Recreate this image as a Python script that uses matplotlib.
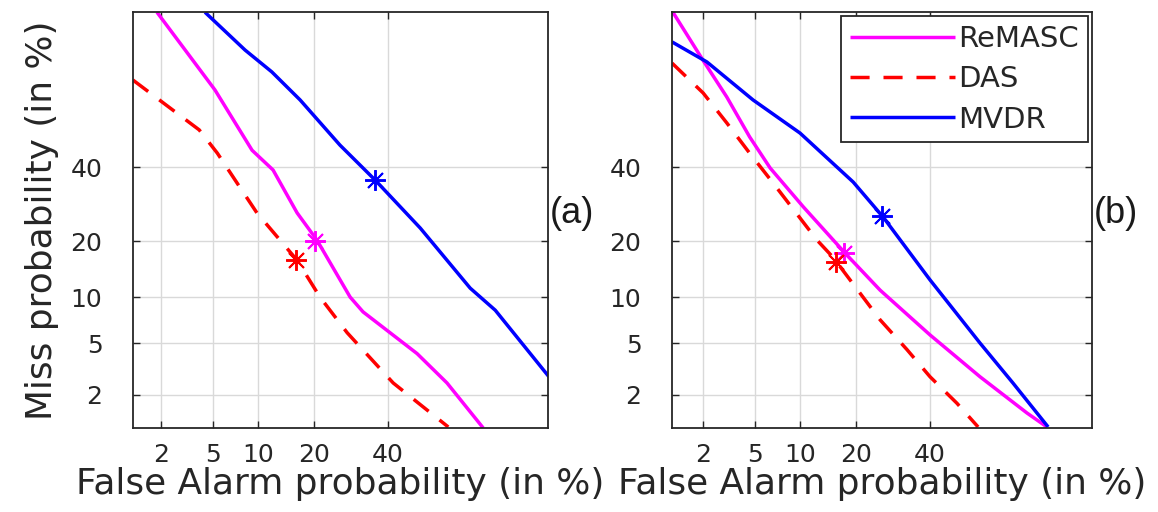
import numpy as np
import matplotlib
matplotlib.use("Agg")
import matplotlib.pyplot as plt
from statistics import NormalDist

# ---------------- data (percent) ----------------
# Panel (a)
a_remasc_fa   = [1.85, 5.2, 9.15, 12.2, 16.5, 20.7, 29.0, 32.6, 49.1, 58.5, 69.2]
a_remasc_miss = [83.4, 63.9, 45.2, 39.1, 26.9, 20.3, 10.0, 8.1, 4.2, 2.5, 1.03]
a_das_fa      = [1.14, 2.5, 4.0, 5.4, 7.35, 9.8, 16.5, 21.4, 28.2, 41.6, 58.9]
a_das_miss    = [66.8, 57.8, 51.6, 44.3, 35.2, 26.9, 16.1, 10.0, 5.9, 2.5, 1.05]
a_mvdr_fa     = [4.41, 8.27, 12.0, 17.1, 26.3, 36.1, 50.1, 65.5, 72.5, 84.7]
a_mvdr_miss   = [83.4, 74.9, 69.1, 60.9, 46.8, 36.1, 23.1, 11.3, 8.3, 2.8]
a_eer         = [20.2, 16.2, 36.1]   # ReMASC, DAS, MVDR

# Panel (b)
b_remasc_fa   = [1.09, 1.99, 3.1, 4.6, 6.4, 10.4, 17.7, 25.8, 40.0, 55.7, 69.7, 75.0]
b_remasc_miss = [83.4, 72.3, 61.8, 49.4, 39.7, 28.5, 17.5, 11.0, 5.7, 2.8, 1.4, 1.05]
b_das_fa      = [1.07, 2.0, 3.1, 4.6, 6.7, 12.5, 15.3, 25.8, 33.1, 40.0, 48.4, 55.1]
b_das_miss    = [71.5, 63.0, 53.8, 44.3, 35.2, 20.3, 16.7, 7.2, 4.5, 2.8, 1.7, 1.05]
b_mvdr_fa     = [1.07, 2.15, 4.87, 9.94, 19.4, 26.6, 40.0, 55.7, 65.7, 75.3]
b_mvdr_miss   = [76.9, 71.8, 60.9, 50.6, 35.5, 25.8, 12.6, 5.0, 2.5, 1.05]
b_eer         = [17.5, 15.8, 26.2]

tick_vals   = [2, 5, 10, 20, 40]
tick_labels = ["2", "5", "10", "20", "40"]
series_names = ["ReMASC", "DAS", "MVDR"]
panel_tags = ["(a)", "(b)"]

# ---------------- normal-deviate scale ----------------
_nd = NormalDist()
_ppf = np.vectorize(_nd.inv_cdf, otypes=[float])
_cdf = np.vectorize(_nd.cdf, otypes=[float])

def fwd(p):
    p = np.asarray(p, dtype=float)
    return _ppf(np.clip(p / 100.0, 1e-9, 1 - 1e-9))

def inv(z):
    return _cdf(np.asarray(z, dtype=float)) * 100.0

colors = {"ReMASC": "#ff00ff", "DAS": "#ff0000", "MVDR": "#0000ff"}
styles = {"ReMASC": "-", "DAS": (0, (5.5, 4.0)), "MVDR": "-"}

fig = plt.figure(figsize=(11.58, 5.12), dpi=100)
W, H = 1158, 512
ax1 = fig.add_axes([133 / W, 84 / H, 415 / W, 416 / H])
ax2 = fig.add_axes([672 / W, 84 / H, 420 / W, 416 / H])

panels = [
    (ax1, [(a_remasc_fa, a_remasc_miss), (a_das_fa, a_das_miss), (a_mvdr_fa, a_mvdr_miss)], a_eer, (-2.276, 1.016)),
    (ax2, [(b_remasc_fa, b_remasc_miss), (b_das_fa, b_das_miss), (b_mvdr_fa, b_mvdr_miss)], b_eer, (-2.301, 1.032)),
]

txtc = "#262626"
for i, (ax, curves, eer, xl) in enumerate(panels):
    ax.set_xscale("function", functions=(fwd, inv))
    ax.set_yscale("function", functions=(fwd, inv))
    for name, (fa, miss), e in zip(series_names, curves, eer):
        ax.plot(fa, miss, linestyle=styles[name], color=colors[name], lw=2.5,
                label=name, solid_capstyle="butt", dash_capstyle="butt")
        ax.plot([e], [e], linestyle="none", marker=(8, 2, 0), markersize=15,
                markeredgewidth=1.4, color=colors[name])
    ax.set_xlim(inv(xl[0]), inv(xl[1]))
    ax.set_ylim(inv(-2.316), inv(0.972))
    ax.set_xticks(tick_vals)
    ax.set_xticklabels(tick_labels)
    ax.set_yticks(tick_vals)
    ax.set_yticklabels(tick_labels)
    ax.minorticks_off()
    ax.grid(True, color="#d9d9d9", lw=1.0)
    ax.set_axisbelow(True)
    ax.tick_params(direction="in", length=5, width=1.0, colors=txtc,
                   labelsize=18, top=True, right=True)
    ax.tick_params(axis="x", pad=11)
    ax.tick_params(axis="y", pad=22)
    for sp in ax.spines.values():
        sp.set_linewidth(1.3)
        sp.set_color("#262626")
    ax.set_xlabel("False Alarm probability (in %)", fontsize=25.8, color=txtc, labelpad=0)
    ax.text(1.004, 0.515, panel_tags[i], transform=ax.transAxes, fontsize=26,
            family="Liberation Sans", ha="left", va="center", color="#1a1a1a")

ax1.set_ylabel("Miss probability (in %)", fontsize=25.8, color=txtc, labelpad=8)

leg = ax2.legend(loc="upper right", fontsize=21, handlelength=3.6, handletextpad=0.12,
                 labelspacing=0.42, borderpad=0.3, borderaxespad=0.15,
                 fancybox=False, framealpha=1, edgecolor="#262626")
leg.get_frame().set_linewidth(1.3)
for t in leg.get_texts():
    t.set_color(txtc)

fig.savefig("out.png", dpi=100, facecolor="white")
